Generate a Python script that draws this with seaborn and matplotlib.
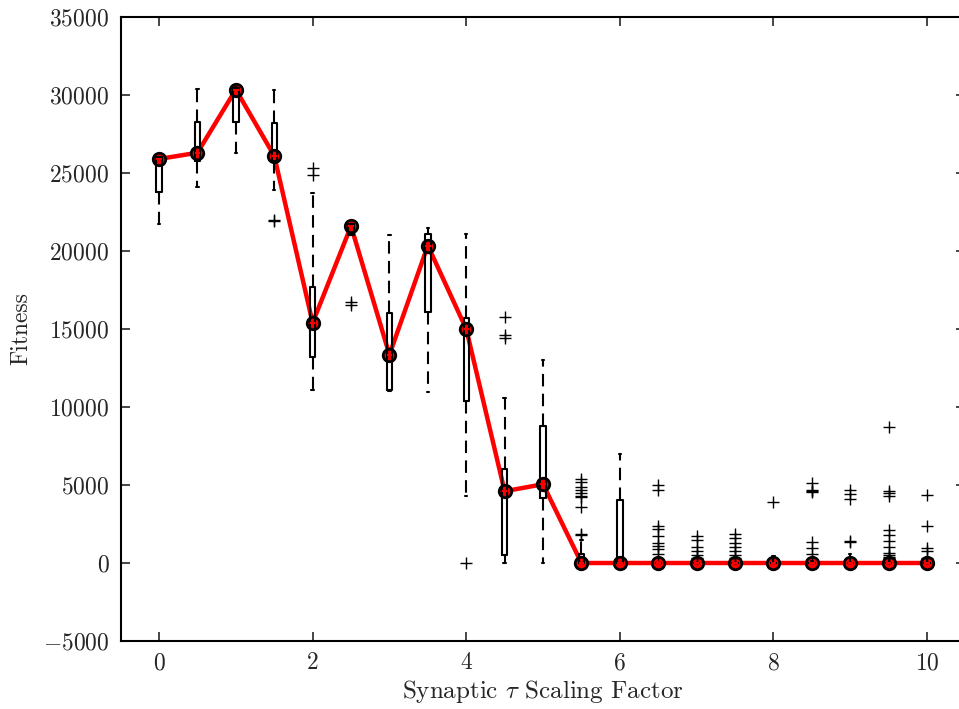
import matplotlib
matplotlib.use("Agg")
import matplotlib.pyplot as plt
import seaborn as sns
import numpy as np

# Synaptic time-constant scaling factors
scale = [0.0, 0.5, 1.0, 1.5, 2.0, 2.5, 3.0, 3.5, 4.0, 4.5, 5.0,
         5.5, 6.0, 6.5, 7.0, 7.5, 8.0, 8.5, 9.0, 9.5, 10.0]

# Fitness distribution summary per scaling factor
fit_q1 = [23800, 25800, 28250, 25800, 13200, 21050, 11100, 16100, 10400, 500, 4150,
          0, 0, 0, 0, 0, 0, 0, 0, 0, 0]
fit_median = [25900, 26300, 30350, 26100, 15400, 21600, 13350, 20350, 15000, 4600, 5050,
              0, 0, 0, 0, 0, 0, 0, 0, 0, 0]
fit_q3 = [26000, 28300, 30450, 28200, 17700, 21700, 16000, 21100, 15700, 6000, 8800,
          600, 4050, 0, 0, 0, 0, 0, 0, 0, 0]
fit_whislo = [21700, 24100, 26300, 23900, 11100, 21000, 11000, 10950, 4300, 0, 0,
              0, 0, 0, 0, 0, 0, 0, 0, 0, 0]
fit_whishi = [26000, 30400, 30500, 30300, 23700, 21700, 21000, 21500, 21100, 10600, 13000,
              1500, 7000, 0, 0, 0, 450, 100, 600, 300, 400]
fit_outliers = [
    [],
    [],
    [],
    [21900, 22000],
    [25300, 24900],
    [16550, 16700],
    [],
    [],
    [0],
    [15800, 14600, 14400],
    [],
    [5400, 5200, 4900, 4700, 4500, 4300, 4200, 3600, 1850, 1800],
    [],
    [5000, 4650, 2400, 2150, 1700, 1300, 1100, 900, 600],
    [1750, 1500, 1050, 800, 500, 300],
    [1850, 1600, 1300, 1050, 750, 500, 300],
    [3900],
    [5150, 4700, 4600, 4550, 1350, 950, 600],
    [4700, 4450, 4100, 1400, 1350],
    [8750, 4600, 4500, 4300, 2100, 1800, 1400, 1050, 650, 500, 400, 300],
    [4350, 2350, 950, 800, 300],
]

sns.set_theme(style="white")
plt.rcParams["font.family"] = "serif"
plt.rcParams["font.serif"] = ["cmr10", "DejaVu Serif"]
plt.rcParams["mathtext.fontset"] = "cm"
plt.rcParams["axes.formatter.use_mathtext"] = True
plt.rcParams["axes.unicode_minus"] = True

fig = plt.figure(figsize=(9.59, 7.09), dpi=100)
ax = fig.add_axes([0.1258, 0.0959, 0.8809, 0.8801])

# Median fitness trend
sns.lineplot(x=scale, y=fit_median, ax=ax, color="red", linewidth=3.2,
             marker="o", markersize=9, markerfacecolor="red",
             markeredgecolor="black", markeredgewidth=2, zorder=2)

stats = []
for i in range(len(scale)):
    stats.append(dict(q1=fit_q1[i], med=fit_median[i], q3=fit_q3[i],
                      whislo=fit_whislo[i], whishi=fit_whishi[i],
                      fliers=np.array(fit_outliers[i], dtype=float)))

ax.bxp(stats, positions=scale, widths=0.07, capwidths=0.03,
       manage_ticks=False, patch_artist=False, zorder=3,
       boxprops=dict(color="black", linewidth=1.5),
       whiskerprops=dict(color="black", linewidth=1.5, linestyle=(0, (6, 3.5))),
       capprops=dict(color="black", linewidth=1.5),
       medianprops=dict(color="red", linewidth=1.5),
       flierprops=dict(marker="+", markersize=9, markeredgecolor="black",
                       markeredgewidth=1, linestyle="none"))

ax.set_xlim(-0.5, 10.5)
ax.set_ylim(-5000, 35000)
ax.set_xticks([0, 2, 4, 6, 8, 10])
ax.set_yticks(range(-5000, 35001, 5000))
ax.tick_params(direction="in", length=6.5, width=1.2, labelsize=17,
               top=True, right=True, bottom=True, left=True, pad=8)
for s in ax.spines.values():
    s.set_color("black")
    s.set_linewidth(1.5)

ax.set_xlabel(r"Synaptic $\tau$ Scaling Factor", fontsize=18, labelpad=3)
ax.set_ylabel("Fitness", fontsize=17, labelpad=8)

fig.savefig("out.png", dpi=100)
